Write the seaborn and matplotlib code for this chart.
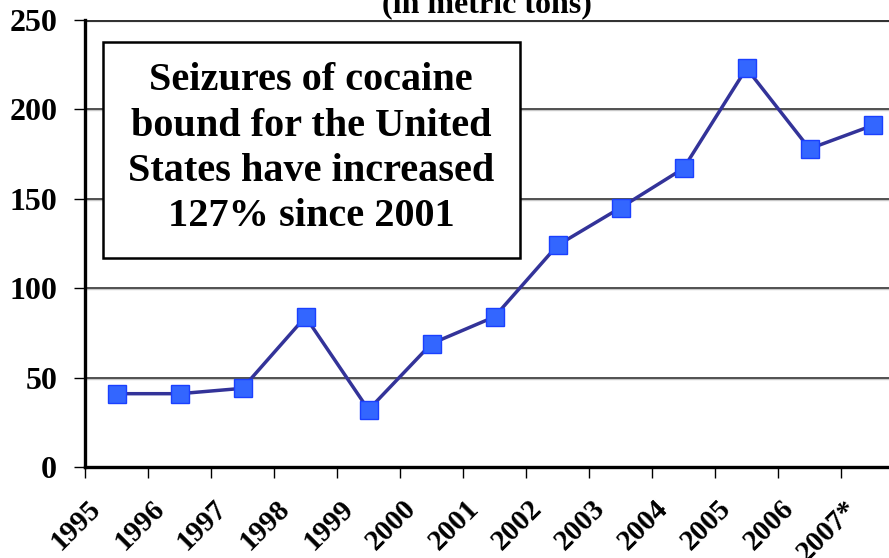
import numpy as np
import pandas as pd
import matplotlib
matplotlib.use('Agg')
import matplotlib.pyplot as plt
import matplotlib.transforms as mtransforms
from matplotlib.patches import Rectangle
import seaborn as sns

# data
years = ['1995', '1996', '1997', '1998', '1999', '2000', '2001',
         '2002', '2003', '2004', '2005', '2006', '2007*']
seizures = [41, 41, 44, 84, 32, 69, 84, 124, 145, 167, 223, 178, 191]
y_ticks = [0, 50, 100, 150, 200, 250]

df = pd.DataFrame({'pos': np.arange(len(years)), 'tons': seizures})

sns.set_theme(style='white')
plt.rcParams['font.family'] = ['Liberation Serif', 'DejaVu Serif']
plt.rcParams['font.weight'] = 'bold'
plt.rcParams['text.color'] = 'black'
plt.rcParams['xtick.color'] = 'black'
plt.rcParams['ytick.color'] = 'black'

fig = plt.figure(figsize=(8.89, 5.58), dpi=100)
ax = fig.add_axes([85 / 889, 1 - 467 / 558, 819 / 889, 447 / 558])

# horizontal grid lines
for yv in y_ticks[1:]:
    ax.axhline(yv - 0.6, color='#c8c8c8', lw=1.0, zorder=0)
    ax.axhline(yv, color='#333333', lw=1.2 if yv < 250 else 2.2, zorder=1)

sns.lineplot(data=df, x='pos', y='tons', ax=ax, color='#333399', lw=2.5,
             marker='s', markersize=13, markerfacecolor='#3366ff',
             markeredgecolor='#1a40ff', markeredgewidth=1, zorder=3)

ax.tick_params(axis='both', direction='out', length=8, width=1, color='black',
               bottom=True, left=True)
ax.tick_params(axis='x', pad=19)
ax.tick_params(axis='y', pad=12)

ax.set_xlim(-0.5, len(years) - 0.5)
ax.set_ylim(0, 250)
ax.set_yticks(y_ticks)
ax.set_yticklabels([str(v) for v in y_ticks], fontsize=23, fontweight='bold')
ax.set_xticks(np.arange(len(years) + 1) - 0.5)
ax.set_xticklabels(years + [''], fontsize=21, fontweight='bold',
                   rotation=45, ha='right', va='center', rotation_mode='anchor')
# shift the rotated year labels a bit to the right (after tick_params)
offset = mtransforms.ScaledTranslation(12 / 100, 0, fig.dpi_scale_trans)
for lab in ax.get_xticklabels():
    lab.set_transform(lab.get_transform() + offset)

ax.set_xlabel('')
ax.set_ylabel('')
for side in ['top', 'right']:
    ax.spines[side].set_visible(False)
for side in ['left', 'bottom']:
    ax.spines[side].set_color('black')
    ax.spines[side].set_linewidth(2.4)

# annotation box
ax.add_patch(Rectangle((0.022, 0.4676), 0.509, 0.4834, transform=ax.transAxes,
                       facecolor='white', edgecolor='black', lw=1.8, zorder=5))
ax.text(0.276, 0.712, 'Seizures of cocaine\nbound for the United\nStates have increased\n127% since 2001',
        transform=ax.transAxes, ha='center', va='center', fontsize=29,
        fontweight='bold', linespacing=1.3, zorder=6)

fig.text(487 / 889, 1 - 12 / 558, '(in metric tons)', ha='center', va='baseline',
         fontsize=23, fontweight='bold')

fig.savefig('out.png', dpi=100)
